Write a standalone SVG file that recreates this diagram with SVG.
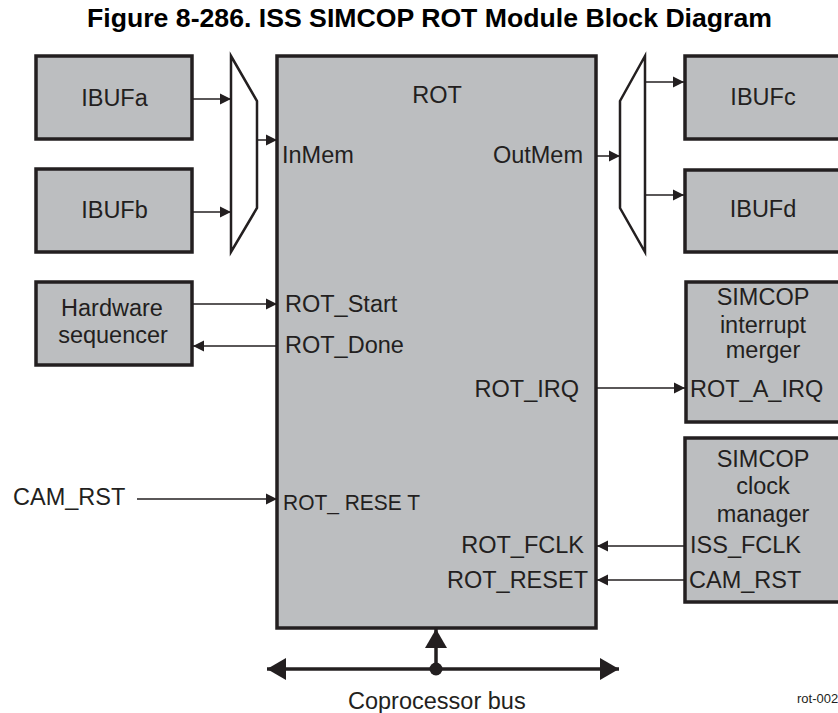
<svg xmlns="http://www.w3.org/2000/svg" width="838" height="713" viewBox="0 0 838 713">
<style>
text{font-family:"Liberation Sans",Arial,sans-serif;fill:#231f20;font-size:23.5px}
.box{fill:#bcbec0;stroke:#231f20;stroke-width:3.5}
.mux{fill:#fff;stroke:#231f20;stroke-width:2.5}
.ln{stroke:#231f20;stroke-width:1.5;fill:none}
.bus{stroke:#231f20;stroke-width:3.5;fill:none}
.c{text-anchor:middle}
.r{text-anchor:end}
</style>
<defs>
<marker id="ah" markerUnits="userSpaceOnUse" markerWidth="12" markerHeight="12" refX="11" refY="6" orient="auto">
<path d="M0,0.5 L11,6 L0,11.5 Z" fill="#231f20"/>
</marker>
<marker id="bh" markerUnits="userSpaceOnUse" markerWidth="20" markerHeight="22" refX="19" refY="11" orient="auto">
<path d="M0,0 L19,11 L0,22 Z" fill="#231f20"/>
</marker>
</defs>
<text class="c" x="429.5" y="27" textLength="685" lengthAdjust="spacingAndGlyphs" style="font-weight:bold;font-size:26px;fill:#000">Figure 8-286. ISS SIMCOP ROT Module Block Diagram</text>

<g id="rot">
<rect class="box" x="277" y="56" width="319" height="572"/>
<text class="c" x="437" y="103">ROT</text>
<text x="282" y="163">InMem</text>
<text class="r" x="583" y="163">OutMem</text>
<text x="285" y="312">ROT_Start</text>
<text x="285" y="353">ROT_Done</text>
<text class="r" x="579" y="397">ROT_IRQ</text>
<text x="283" y="510" textLength="137" lengthAdjust="spacingAndGlyphs" style="font-size:22.5px">ROT_ RESE T</text>
<text class="r" x="584" y="553">ROT_FCLK</text>
<text class="r" x="588" y="588">ROT_RESET</text>
</g>

<g id="ibufa"><rect class="box" x="36" y="56" width="156" height="83"/><text class="c" x="114.5" y="106">IBUFa</text></g>
<g id="ibufb"><rect class="box" x="36" y="169" width="156" height="83"/><text class="c" x="114.5" y="218">IBUFb</text></g>
<g id="muxin"><polygon class="mux" points="231,56 257,101 257,208 231,252"/></g>
<g id="muxout"><polygon class="mux" points="645,56 620,101 620,208 645,252"/></g>
<g id="ibufc"><rect class="box" x="685" y="56" width="160" height="83"/><text class="c" x="763" y="105">IBUFc</text></g>
<g id="ibufd"><rect class="box" x="685" y="170" width="160" height="82"/><text class="c" x="763" y="217">IBUFd</text></g>
<g id="hwseq"><rect class="box" x="36" y="282" width="156" height="83"/><text class="c" x="112" y="316">Hardware</text><text class="c" x="113" y="343">sequencer</text></g>
<g id="irqmerger"><rect class="box" x="686" y="282" width="160" height="140"/>
<text class="c" x="763" y="305">SIMCOP</text><text class="c" x="763" y="333">interrupt</text><text class="c" x="763" y="358">merger</text>
<text x="690" y="397">ROT_A_IRQ</text></g>
<g id="clkmgr"><rect class="box" x="685" y="438" width="160" height="164"/>
<text class="c" x="763" y="467">SIMCOP</text><text class="c" x="763" y="494">clock</text><text class="c" x="763" y="522">manager</text>
<text x="690" y="553">ISS_FCLK</text><text x="689" y="588">CAM_RST</text></g>
<g id="camrst"><text x="13" y="505">CAM_RST</text></g>

<g id="connectors">
<line class="ln" x1="193" y1="99" x2="231" y2="99" marker-end="url(#ah)"/>
<line class="ln" x1="193" y1="212" x2="231" y2="212" marker-end="url(#ah)"/>
<line class="ln" x1="257" y1="140" x2="277" y2="140" marker-end="url(#ah)"/>
<line class="ln" x1="596" y1="156" x2="620" y2="156" marker-end="url(#ah)"/>
<line class="ln" x1="645" y1="82" x2="684" y2="82" marker-end="url(#ah)"/>
<line class="ln" x1="645" y1="195" x2="684" y2="195" marker-end="url(#ah)"/>
<line class="ln" x1="193" y1="304" x2="277" y2="304" marker-end="url(#ah)"/>
<line class="ln" x1="277" y1="346" x2="193" y2="346" marker-end="url(#ah)"/>
<line class="ln" x1="596" y1="388" x2="685" y2="388" marker-end="url(#ah)"/>
<line class="ln" x1="684" y1="546" x2="597" y2="546" marker-end="url(#ah)"/>
<line class="ln" x1="684" y1="580" x2="597" y2="580" marker-end="url(#ah)"/>
<line class="ln" x1="137" y1="499" x2="277" y2="499" marker-end="url(#ah)"/>
<line class="bus" x1="300" y1="669" x2="267" y2="669" marker-end="url(#bh)"/>
<line class="bus" x1="300" y1="669" x2="619" y2="669" marker-end="url(#bh)"/>
<line class="bus" x1="436" y1="669" x2="436" y2="629" marker-end="url(#bh)"/>
<circle cx="436" cy="669" r="6.5" fill="#231f20"/>
<text x="348" y="709">Coprocessor bus</text>
</g>
<text x="797" y="703" style="font-size:13px">rot-002</text>
</svg>
